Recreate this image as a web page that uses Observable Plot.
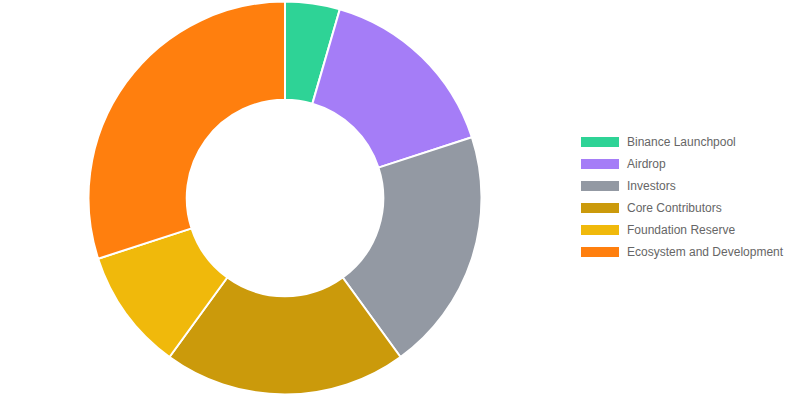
<!DOCTYPE html>
<html><head><meta charset="utf-8">
<script src="https://cdn.jsdelivr.net/npm/d3@7"></script>
<script src="https://cdn.jsdelivr.net/npm/@observablehq/plot@0.6"></script>
<style>
body{margin:0;background:#fff;}
#wrap{position:relative;width:792px;height:396px;}
#legend{position:absolute;left:581px;top:131px;font:12px "Liberation Sans", Arial, sans-serif;color:#666;}
.row{height:22px;display:flex;align-items:center;white-space:nowrap;}
.sw{width:38px;height:10px;margin-right:8px;flex:none;}
</style></head><body><div id="wrap"><div id="chart"></div><div id="legend"></div></div>
<script>
const categories = ["Binance Launchpool", "Airdrop", "Investors", "Core Contributors", "Foundation Reserve", "Ecosystem and Development"];
const shares = [4.5, 15.5, 20, 20, 10, 30];
const colors = ["#2ed396", "#a57df7", "#9399a3", "#cb9a0b", "#f0b90b", "#ff7f0e"];

const data = categories.map((c, i) => ({category: c, value: shares[i]}));
const arcs = d3.pie().value(d => d.value).sort(null)(data);

const donut = (index, scales) => {
  const cx = scales.x(0), cy = scales.y(0);
  const r = Math.abs(scales.x(1) - scales.x(0));
  const arc = d3.arc().innerRadius(r * 0.5).outerRadius(r);
  const g = d3.create("svg:g").attr("transform", `translate(${cx},${cy})`);
  g.selectAll("path").data(arcs).join("path")
    .attr("d", arc)
    .attr("fill", d => scales.color(d.data.category))
    .attr("stroke", "#fff")
    .attr("stroke-width", 2)
    .attr("stroke-linejoin", "round");
  return g.node();
};

const chart = Plot.plot({
  width: 792,
  height: 396,
  margin: 0,
  style: {background: "#fff"},
  x: {domain: [-1, 1], range: [88.5, 481.5], axis: null},
  y: {domain: [-1, 1], range: [394.5, 1.5], axis: null},
  color: {domain: categories, range: colors},
  marks: [
    Plot.dot(data, {x: () => 0, y: () => 0, fill: "category", r: 0}),
    donut
  ]
});
document.getElementById("chart").appendChild(chart);

const colorScale = chart.scale("color");
const legend = document.getElementById("legend");
categories.forEach(c => {
  const row = document.createElement("div");
  row.className = "row";
  const sw = document.createElement("div");
  sw.className = "sw";
  sw.style.background = colorScale.apply(c);
  const lab = document.createElement("span");
  lab.textContent = c;
  row.appendChild(sw);
  row.appendChild(lab);
  legend.appendChild(row);
});
</script>
</body></html>
